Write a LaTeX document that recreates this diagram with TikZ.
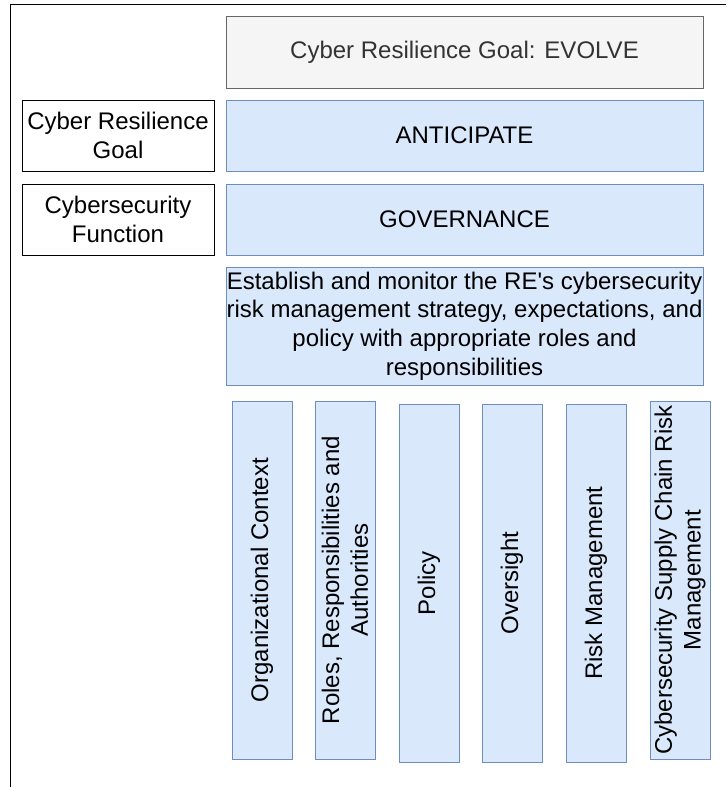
\documentclass[tikz,border=0pt]{standalone}
\usepackage{fontspec}
\setmainfont{Liberation Sans}
\definecolor{fillblue}{HTML}{DAE8FC}
\definecolor{bordblue}{HTML}{6C8EBF}
\definecolor{fillgray}{HTML}{F5F5F5}
\definecolor{bordgray}{HTML}{666666}
\definecolor{textgray}{HTML}{333333}
\begin{document}
\begin{tikzpicture}[x=1pt,y=-1pt,
  font=\fontsize{24}{28.8}\selectfont,
  every node/.style={inner sep=0pt, outer sep=0pt},
  bluebox/.style={draw=bordblue, fill=fillblue, line width=1pt, align=center},
  graybox/.style={draw=bordgray, fill=fillgray, line width=1pt, text=textgray, align=center},
  whitebox/.style={draw=black, fill=white, line width=1pt, align=center, minimum width=192pt, minimum height=71pt},
  wide/.style={minimum width=477pt},
  colbox/.style={bluebox, rotate=90, minimum width=358pt, minimum height=60pt}]
\useasboundingbox (0,0) rectangle (726,787);
\coordinate (fr1) at (726,4.5);
\coordinate (fr2) at (10.5,4.5);
\coordinate (fr3) at (10.5,787);
\draw[line width=1.5pt] (fr1) -- (fr2) -- (fr3);

\node[graybox, wide, minimum height=72pt] (evolve) at (464.5,52) {Cyber Resilience Goal: EVOLVE};
\node[bluebox, wide, minimum height=71pt] (anticipate) at (464.5,135.5) {ANTICIPATE};
\node[bluebox, wide, minimum height=71pt] (governance) at (464.5,219.5) {GOVERNANCE};
\node[bluebox, wide, minimum height=118pt] (desc) at (464.5,326) {Establish and monitor the RE\textquotesingle s cybersecurity\\risk management strategy, expectations, and\\policy with appropriate roles and\\responsibilities};

\node[whitebox] (crg) at (118,135.5) {Cyber Resilience\\Goal};
\node[whitebox] (csf) at (118,219.5) {Cybersecurity\\Function};

\node[colbox] (c1) at (262,580) {Organizational Context};
\node[colbox] (c2) at (345,580) {Roles, Responsibilities and\\Authorities};
\node[colbox] (c3) at (429,583) {Policy};
\node[colbox] (c4) at (512,583) {Oversight};
\node[colbox] (c5) at (596,583) {Risk Management};
\node[colbox] (c6) at (680,580) {Cybersecurity Supply Chain Risk\\Management};
\end{tikzpicture}
\end{document}
